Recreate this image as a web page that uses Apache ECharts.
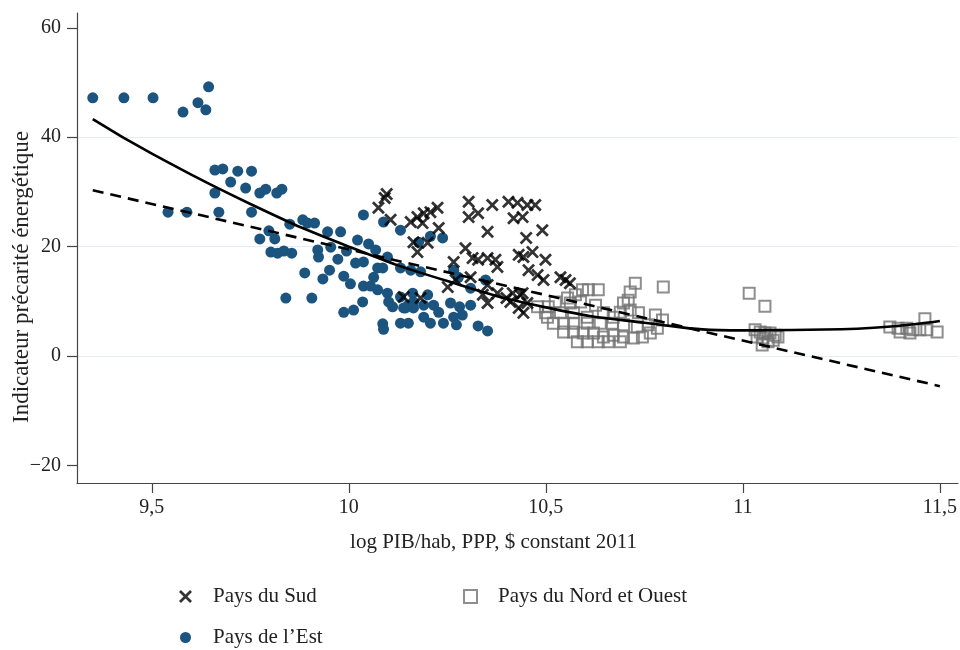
<!DOCTYPE html>
<html>
<head>
<meta charset="utf-8">
<script src="https://cdn.jsdelivr.net/npm/echarts@6/dist/echarts.min.js"></script>
<style>html,body{margin:0;padding:0;background:#fff}#c{width:960px;height:650px}</style>
</head>
<body>
<div id="c"></div>
<script>
// Tick labels
const xTicks = [9.5, 10, 10.5, 11, 11.5];
const yTicks = [-20, 0, 20, 40, 60];

// Pays de l'Est (blue dots) [log PIB/hab, indicateur]
const estPoints = [
 [9.350,47.2],[9.429,47.2],[9.503,47.2],[9.579,44.6],[9.617,46.3],[9.637,45.0],[9.644,49.2],
 [9.660,34.0],[9.680,34.2],[9.718,33.8],[9.753,33.8],[9.700,31.8],[9.738,30.7],[9.774,29.8],
 [9.789,30.5],[9.817,29.8],[9.830,30.5],[9.660,29.8],[9.541,26.3],[9.589,26.3],[9.670,26.3],
 [9.753,26.3],[9.850,24.1],[9.883,24.9],[9.895,24.3],[9.913,24.3],[9.797,22.9],[9.774,21.4],
 [9.812,21.4],[9.802,19.0],[9.819,18.8],[9.835,19.2],[9.855,18.8],[9.921,19.4],[9.923,18.1],
 [9.946,22.7],[9.979,22.7],[9.954,19.9],[9.994,19.2],[9.972,17.7],[9.888,15.2],[9.934,14.1],
 [9.951,15.7],[9.987,14.6],[10.004,13.2],[9.840,10.6],[9.906,10.6],[9.987,8.0],[10.012,8.4],
 [10.035,9.9],[10.022,21.2],[10.050,20.5],[10.068,19.4],[10.098,18.1],[10.017,17.0],[10.037,17.2],
 [10.073,16.1],[10.131,23.0],[10.037,25.8],[10.088,24.5],[10.177,20.8],[10.207,21.9],[10.238,21.6],
 [10.037,12.8],[10.055,12.8],[10.063,14.4],[10.073,12.1],[10.098,11.5],[10.101,9.9],[10.111,9.0],
 [10.139,8.8],[10.151,9.3],[10.086,5.9],[10.088,4.9],[10.131,6.0],[10.151,6.0],[10.086,16.1],
 [10.131,16.1],[10.157,15.7],[10.182,15.4],[10.266,15.7],[10.278,14.4],[10.309,12.4],[10.347,13.9],
 [10.131,10.8],[10.162,11.5],[10.164,9.9],[10.200,11.2],[10.144,8.8],[10.164,8.8],[10.190,9.3],
 [10.215,9.3],[10.228,8.0],[10.258,9.7],[10.281,9.0],[10.309,9.3],[10.266,7.1],[10.288,7.5],
 [10.190,7.1],[10.207,6.0],[10.240,6.0],[10.273,5.7],[10.328,5.5],[10.352,4.6]
];

// Pays du Sud (black crosses)
const sudPoints = [
 [10.096,29.6],[10.091,28.9],[10.075,27.1],[10.106,24.9],[10.157,24.5],[10.174,25.4],[10.190,26.1],
 [10.207,26.3],[10.225,27.1],[10.187,24.3],[10.228,23.4],[10.164,20.8],[10.174,19.0],[10.200,20.7],
 [10.304,28.2],[10.304,25.4],[10.328,26.1],[10.364,27.6],[10.352,22.7],[10.405,28.2],[10.428,28.0],
 [10.418,25.2],[10.441,25.4],[10.453,27.6],[10.473,27.6],[10.491,23.0],[10.450,21.6],[10.296,19.7],
 [10.314,17.9],[10.328,17.6],[10.352,17.9],[10.372,17.6],[10.377,16.3],[10.431,18.5],[10.443,18.1],
 [10.466,19.0],[10.499,17.6],[10.456,15.7],[10.479,14.8],[10.494,13.9],[10.266,17.2],[10.271,13.9],
 [10.251,12.6],[10.309,14.4],[10.340,11.2],[10.352,9.7],[10.377,11.5],[10.400,10.6],[10.416,11.5],
 [10.435,11.2],[10.453,9.7],[10.352,13.0],[10.182,10.6],[10.139,10.8],[10.537,14.4],[10.550,13.9],
 [10.561,13.3],[10.441,11.5],[10.443,7.9],[10.410,9.9],[10.431,8.8]
];

// Pays du Nord et Ouest (grey squares)
const nordPoints = [
 [10.727,13.3],[10.798,12.6],[10.593,12.1],[10.608,12.1],[10.633,12.1],[10.714,11.7],[10.709,10.2],
 [10.697,9.7],[10.575,11.2],[10.555,10.6],[10.524,9.9],[10.506,9.0],[10.562,9.7],[10.588,9.9],
 [10.626,9.3],[10.689,8.0],[10.714,8.4],[10.735,7.9],[10.778,7.5],[10.796,6.6],[10.479,9.0],
 [10.499,7.9],[10.519,6.0],[10.545,4.4],[10.570,4.4],[10.595,4.2],[10.621,4.2],[10.646,3.5],
 [10.671,3.8],[10.697,3.5],[10.722,3.3],[10.745,3.5],[10.580,2.6],[10.605,2.6],[10.633,2.6],
 [10.658,2.6],[10.689,2.6],[10.545,6.0],[10.570,6.0],[10.605,6.0],[10.638,6.0],[10.669,6.0],
 [10.697,5.7],[10.732,5.3],[10.760,5.7],[10.783,5.1],[10.765,4.2],[10.504,7.1],[10.537,7.9],
 [10.570,7.9],[10.605,7.1],[10.646,7.9],[10.671,7.1],
 [11.016,11.5],[11.056,9.1],[11.031,4.8],[11.044,4.4],[11.056,4.2],[11.069,4.2],[11.082,3.8],
 [11.089,3.5],[11.036,3.5],[11.051,3.3],[11.064,2.6],[11.077,2.9],[11.049,2.0],
 [11.373,5.3],[11.394,5.1],[11.416,5.1],[11.432,4.8],[11.424,4.2],[11.449,4.8],[11.462,6.8],
 [11.467,4.8],[11.493,4.4],[11.399,4.4]
];

// Fitted curves
const quadX = [9.35, 9.5, 9.75, 10, 10.25, 10.5, 10.75, 11, 11.25, 11.5];
const quadY = [43.3, 37.0, 27.8, 20.0, 13.7, 8.9, 6.1, 4.7, 4.9, 6.4];
const linX = [9.35, 11.5];
const linY = [30.3, -5.5];

const FONT = 'Liberation Serif';
const crossPath = 'path://M0,1.8L1.8,0L6,4.2L10.2,0L12,1.8L7.8,6L12,10.2L10.2,12L6,7.8L1.8,12L0,10.2L4.2,6Z';

const chart = echarts.init(document.getElementById('c'), null, {renderer: 'canvas'});
const fmt = v => String(v).replace('.', ',');
const legendBase = {
  orient: 'horizontal', itemGap: 0,
  textStyle: {fontFamily: FONT, fontSize: 21, color: '#222'}
};
const lt = pad => Object.assign({}, legendBase.textStyle, {padding: [0, 0, 0, pad]});
chart.setOption({
  animation: false,
  backgroundColor: '#fff',
  grid: {left: 77, right: 2, top: 13, bottom: 167, containLabel: false, outerBoundsMode: 'none'},
  xAxis: {
    type: 'value', min: 9.31, max: 11.546,
    name: 'log PIB/hab, PPP, $ constant 2011', nameLocation: 'middle', nameGap: 49,
    nameMoveOverlap: false,
    nameTextStyle: {fontFamily: FONT, fontSize: 21, color: '#222', padding: [0, 48, 0, 0]},
    axisLine: {show: true, onZero: false, lineStyle: {color: '#444', width: 1.2}},
    axisTick: {show: true, length: 10, lineStyle: {color: '#444', width: 1.2}, customValues: xTicks},
    axisLabel: {fontFamily: FONT, fontSize: 20, color: '#222', margin: 15, formatter: fmt,
                customValues: xTicks},
    splitLine: {show: false}
  },
  yAxis: {
    type: 'value', min: -23.2, max: 62.7,
    name: 'Indicateur précarité énergétique', nameLocation: 'middle', nameGap: 44,
    nameMoveOverlap: false,
    nameTextStyle: {fontFamily: FONT, fontSize: 23, color: '#222', padding: [0, 58, 0, 0]},
    axisLine: {show: true, onZero: false, lineStyle: {color: '#444', width: 1.2}},
    axisTick: {show: true, length: 10, lineStyle: {color: '#444', width: 1.2}, customValues: yTicks},
    axisLabel: {fontFamily: FONT, fontSize: 20, color: '#222', margin: 16,
                customValues: yTicks,
                formatter: v => (v < 0 ? '\u2212' + Math.abs(v) : String(v))},
    splitLine: {show: true, showMinLine: false, showMaxLine: false,
                lineStyle: {color: '#e6edf2', width: 1.2}}
  },
  legend: [
    Object.assign({}, legendBase, {left: 174, top: 581, itemWidth: 13, itemHeight: 13,
      textStyle: lt(16), data: ['Pays du Sud']}),
    Object.assign({}, legendBase, {left: 458, top: 581, itemWidth: 13, itemHeight: 13,
      textStyle: lt(16), data: ['Pays du Nord et Ouest']}),
    Object.assign({}, legendBase, {left: 175, top: 622, itemWidth: 11, itemHeight: 13,
      textStyle: lt(17), data: ['Pays de l\u2019Est']})
  ],
  series: [
    {name: 'Pays du Nord et Ouest', type: 'scatter', symbol: 'rect', symbolSize: 11, data: nordPoints,
     itemStyle: {color: 'rgba(255,255,255,0)', borderColor: '#727272', borderWidth: 2}, z: 2},
    {name: 'Pays de l\u2019Est', type: 'scatter', symbol: 'circle', symbolSize: 11, data: estPoints,
     itemStyle: {color: '#1b547e', opacity: 1}, z: 3},
    {name: 'Pays du Sud', type: 'scatter', symbol: crossPath, symbolSize: 13, data: sudPoints,
     itemStyle: {color: '#000'}, z: 4},
    {name: 'quad', type: 'line', data: quadX.map((x, i) => [x, quadY[i]]), smooth: 0.5,
     showSymbol: false, lineStyle: {color: '#000', width: 2.6}, z: 5, silent: true},
    {name: 'lin', type: 'line', data: linX.map((x, i) => [x, linY[i]]),
     showSymbol: false, lineStyle: {color: '#000', width: 2.6, type: [11, 7]}, z: 5, silent: true}
  ]
});
</script>
</body>
</html>
